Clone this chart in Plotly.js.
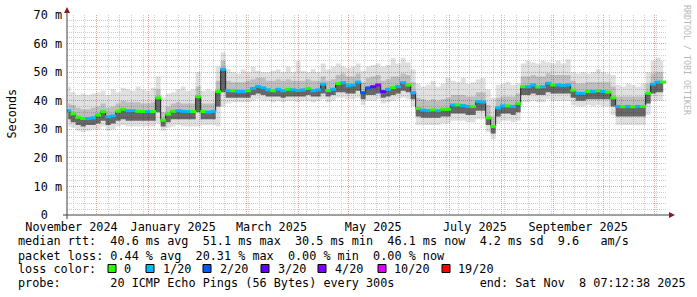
<!DOCTYPE html>
<html><head><meta charset="utf-8">
<script src="https://cdn.plot.ly/plotly-3.0.1.min.js"></script>
<style>html,body{margin:0;padding:0;background:#fff}</style>
</head><body><div id="chart" style="width:697px;height:297px"></div>
<script>
// ---- data (ms), one value every 3 days starting 2024-11-14 ----
const startDate = '2024-11-14';
const stepDays = 3;
const median = [36.5,35.4,34.2,33.8,33.8,34,35,36.2,34.4,34.7,36.3,37,36.5,36.5,36.3,36.2,36.2,36.2,41,33.2,
35.3,36.3,36.5,36.3,36.2,36.2,41.4,36.2,36,36.2,43.2,51,43.5,43.5,43.2,43.2,43.5,44.3,45,44.5,
43.8,43.5,44,43.5,44,43.8,43.6,43.8,44.3,43.5,43.8,45.8,43.6,44,46,46.3,45.2,45.5,46.5,42.8,
44.5,44.9,45.5,43.2,44,44.6,45,46.3,45.5,42.8,37.3,36.7,36.5,36.8,36.5,37,37,38.5,38.5,38.3,
38,38,39.7,39.5,34,31,37.5,38.2,38.2,38,39,44.9,44.9,45.5,44.8,44.9,46.1,45.5,45.5,45.3,
45.5,43.7,42.6,42.6,43.2,43.2,43.5,43.2,43,41,38,37.9,38,37.9,38,38,42.6,45.8,46.5,46.5];
const smokeMin = [31,30.5,29.5,29,29.5,30,30,31,29.5,30,31,31.5,31,31,31,31,31,31,32,29.5,
30.5,31,31.5,31,31,31,31,31.5,31.5,31.5,31,38,39,39.5,39.5,39.5,39.5,40,40.5,40,
40,39.5,40,39.5,40,40,39.5,40,40,39.5,40,40.5,39.5,40,41,41,40.5,40.5,41,38.5,
40,40,40.5,39,39.5,40,40.5,41,40.5,38,31.5,31.5,31.5,31.5,31.5,32,32,33,33,33,
32.5,32.5,33.5,33.5,29,26.5,32,33,33,32.5,33,39.5,39.5,40,39.5,39.5,40.5,40,40,40,
40,38.5,38,38,38.5,38,38.5,38,38,35,31.5,31.5,31.5,31.5,31.5,31.5,35,40,40,40];
const smokeQ1 = [33.5,32.5,31.5,31,31.5,31.5,32,33,31.5,32,33,33.5,33,33,33,33,33,33,36,31,
32.5,33.5,33.5,33.5,33.5,33.5,36,33.5,33.5,33.5,38,43,41,41,41,41,41,42,42.5,42,
41.5,41.5,41.5,41,41.5,41.5,41.5,41.5,42,41.5,41.5,42.5,41.5,42,43,43,42.5,42.5,43.5,40.5,
42,42,42.5,41,41.5,42,42.5,43.5,43,40.5,34.5,34,34,34,34,34.5,34.5,35.5,35.5,35.5,
35,35,36.5,36.5,31.5,28.5,34.5,35.5,35.5,35,36,42,42,42.5,42,42,43,42.5,42.5,42.5,
42.5,41,40,40,40.5,40.5,40.5,40.5,40.5,38,34.5,34.5,34.5,34.5,34.5,34.5,39,42.5,43,43];
const smokeQ3 = [39,38.5,37.5,37,37,37.5,38,39,37.5,38,39,40,39.5,39.5,39.5,39,39,39.5,44,36,
38,39,39.5,39,39,39,45,39,39,39,47,54,47,46.5,46.5,46.5,47,47.5,48,48,
47,47,47.5,47,47.5,47,47,47,47.5,47,47,48.5,47,47.5,49,49.5,48.5,48.5,49.5,46.5,
48,48.5,49,47,47.5,48.5,48.5,49.5,49,46.5,41,40.5,40,40.5,40,40.5,41,42,42,42,
41.5,41.5,43,43,38.5,34.5,41,41.5,41.5,41.5,42.5,48.5,48.5,49,48.5,48.5,49.5,49,49,49,
49,47,46,46,46.5,46.5,46.5,46.5,46.5,45,41.5,41.5,41.5,41.5,41.5,41.5,46,49.5,50,50];
const smokeMax = [45,43,42,42.5,42,42.5,43,43.5,42,44,43,44.5,44,43.5,45,44,43.5,44.5,48.5,41,
42.5,43,44,45,43.5,44,50,43.5,44,43.5,52,57,51,50,49.5,51,50,52,50.5,50,
50,50.5,51,50,52,50,54,50.5,50,51,50,53,51,52,53,52,51.5,52,53,50.5,
52,52.5,53,52,52.5,55,53,55,53.5,51,46,45,45.5,47,45,46,48,47,46.5,48,
46,46.5,47.5,48,44,41,45.5,46,46.5,45.5,46,53,54,53.5,53,54,53.5,53,54,53,
54.5,50,49.5,50,49.5,50,51,50,49.5,49,45.5,45,46,45.5,45,46,50,54,55,54];
// loss per step, in pings out of 20
const lossCount = [1,0,0,0,1,1,0,0,1,1,0,0,1,1,0,0,1,0,0,0,0,0,1,1,1,0,0,0,1,1,
0,1,1,0,1,1,0,1,1,1,1,0,1,1,0,1,1,1,0,1,1,1,0,1,0,1,1,1,1,2,
2,3,4,3,1,0,1,1,0,1,0,1,1,0,1,0,0,1,0,1,1,0,1,1,0,0,1,1,0,1,
0,0,1,1,0,1,1,0,1,1,1,0,1,1,0,1,0,1,0,0,1,0,1,0,1,0,0,1,1,0];
const lossLevels = [0, 1, 2, 3, 4, 10, 19];
const lossLabels = ['0', '1/20', '2/20', '3/20', '4/20', '10/20', '19/20'];
const lossColors = ['#26ff00', '#00b8ff', '#0059ff', '#5e00ff', '#7e00ff', '#dd00ff', '#ff0000'];
const yTickVals = [0, 10, 20, 30, 40, 50, 60, 70];
const yTickText = ['0\u00a0\u00a0', '10 m', '20 m', '30 m', '40 m', '50 m', '60 m', '70 m'];
const xLabelVals = ['2024-11-16', '2025-01-16', '2025-03-16', '2025-05-16', '2025-07-16', '2025-09-16'];
const xLabelText = ['November 2024', 'January 2025', 'March 2025', 'May 2025', 'July 2025', 'September 2025'];
const rangeStart = '2024-11-13 07:12:38';
const rangeEnd = '2025-11-08 07:12:38';
const legendLine1 = 'median rtt:  40.6 ms avg  51.1 ms max  30.5 ms min  46.1 ms now  4.2 ms sd  9.6   am/s';
const legendLine2 = 'packet loss: 0.44 % avg  20.31 % max  0.00 % min  0.00 % now';
const legendLine3 = 'loss color:';
const legendLine4 = 'probe:       20 ICMP Echo Pings (56 Bytes) every 300s            end: Sat Nov  8 07:12:38 2025';

// ---- build ----
const t0 = new Date(startDate + 'T00:00:00Z').getTime();
const xs = median.map((_, i) => new Date(t0 + i * stepDays * 86400000).toISOString().slice(0, 19).replace('T', ' '));
const colorOf = n => lossColors[lossLevels.indexOf(n)];
const MONO = 'DejaVu Sans Mono';
const FS = 11.8;
const nb = s => s.replace(/ /g, '\u00a0');
const PX = v => (v - 67) / 600, PY = v => (215 - v) / 200;

const base = {x: xs, type: 'scatter', mode: 'lines', hoverinfo: 'skip', line: {width: 0, shape: 'hvh'}};
const traces = [
  Object.assign({}, base, {y: smokeMin}),
  Object.assign({}, base, {y: smokeMax, fill: 'tonexty', fillcolor: 'rgba(0,0,0,0.12)'}),
  Object.assign({}, base, {y: smokeQ1}),
  Object.assign({}, base, {y: smokeQ3, fill: 'tonexty', fillcolor: 'rgba(0,0,0,0.15)'}),
  Object.assign({}, base, {y: smokeQ1}),
  Object.assign({}, base, {y: median, fill: 'tonexty', fillcolor: 'rgba(0,0,0,0.45)'}),
  Object.assign({}, base, {y: median, line: {width: 1, shape: 'hvh', color: '#202020'}}),
  {x: xs, y: median, type: 'scatter', mode: 'markers', hoverinfo: 'skip',
   marker: {symbol: 'line-ew', size: 4.2, line: {width: 3, color: lossCount.map(colorOf)}}},
  {x: xLabelVals, y: xLabelVals.map(() => null), xaxis: 'x2', type: 'scatter', mode: 'markers', hoverinfo: 'skip'}
];

const gridRed = '#e7a3a3', gridGray = '#cfcfcf', dots = '1px,1px';
const annotations = [
  {text: nb(legendLine1), x: PX(16), y: PY(241)},
  {text: nb(legendLine2), x: PX(16), y: PY(255.5)},
  {text: nb(legendLine3), x: PX(16), y: PY(269)},
  {text: nb(legendLine4), x: PX(16), y: PY(283)},
  {text: 'Seconds', x: PX(11), y: PY(113.5), xanchor: 'center', textangle: -90},
  {text: nb('RRDTOOL / TOBI OETIKER'), x: PX(687), y: PY(60), xanchor: 'center', textangle: 90,
   font: {family: MONO, size: 8.3, color: '#b8b8b8'}}
];
const boxX = [108, 146, 203, 261, 318, 378, 442];
const labX = [122, 161, 218, 276, 333, 392, 456];
const shapes = [];
lossLabels.forEach((lab, k) => {
  annotations.push({text: nb(lab), x: PX(labX[k]), y: PY(269)});
  shapes.push({type: 'rect', xref: 'paper', yref: 'paper', x0: PX(boxX[k]), x1: PX(boxX[k] + 8),
    y0: PY(272.5), y1: PY(264.5), fillcolor: lossColors[k], line: {color: '#000', width: 1}});
});
annotations.forEach(a => {
  a.xref = 'paper'; a.yref = 'paper'; a.showarrow = false;
  if (!a.xanchor) a.xanchor = 'left';
  a.yanchor = 'middle';
  if (!a.font) a.font = {family: MONO, size: FS, color: '#000'};
});
// axis lines and arrows
shapes.push({type: 'line', xref: 'paper', yref: 'paper', x0: PX(67), x1: PX(67), y0: PY(219), y1: PY(12), line: {color: '#404040', width: 1}});
shapes.push({type: 'line', xref: 'paper', yref: 'paper', x0: PX(63), x1: PX(670), y0: PY(215), y1: PY(215), line: {color: '#404040', width: 1}});
shapes.push({type: 'path', xref: 'paper', yref: 'paper', fillcolor: '#8e1a1a', line: {width: 0},
  path: `M ${PX(64)} ${PY(13)} L ${PX(67)} ${PY(7)} L ${PX(70)} ${PY(13)} Z`});
shapes.push({type: 'path', xref: 'paper', yref: 'paper', fillcolor: '#8e1a1a', line: {width: 0},
  path: `M ${PX(669)} ${PY(212)} L ${PX(675)} ${PY(215)} L ${PX(669)} ${PY(218)} Z`});

const layout = {
  width: 697, height: 297,
  margin: {l: 67, r: 30, t: 15, b: 82, pad: 0},
  paper_bgcolor: '#ffffff', plot_bgcolor: '#ffffff',
  showlegend: false,
  font: {family: MONO, size: FS, color: '#000'},
  xaxis: {type: 'date', range: [rangeStart, rangeEnd], tickmode: 'linear', tick0: '2024-12-01', dtick: 'M1',
    showticklabels: false, showgrid: true, gridcolor: gridRed, griddash: dots, gridwidth: 1,
    ticks: '', zeroline: false, showline: false, fixedrange: true,
    minor: {tick0: '2024-12-01', dtick: 7 * 86400000, showgrid: true, gridcolor: gridGray, griddash: dots, gridwidth: 1}},
  xaxis2: {type: 'date', overlaying: 'x', anchor: 'y', side: 'bottom', range: [rangeStart, rangeEnd],
    tickmode: 'array', tickvals: xLabelVals, ticktext: xLabelText, showgrid: false, ticks: '',
    showline: false, zeroline: false, tickfont: {family: MONO, size: FS, color: '#000'}, ticklabelstandoff: 3},
  yaxis: {range: [0, 70], tickmode: 'array', tickvals: yTickVals, ticktext: yTickText,
    showgrid: true, gridcolor: gridRed, griddash: dots, gridwidth: 1, zeroline: false, showline: false, ticks: '',
    tickfont: {family: MONO, size: FS, color: '#000'}, ticklabelstandoff: 4, fixedrange: true,
    minor: {dtick: 2, showgrid: true, gridcolor: gridGray, griddash: dots, gridwidth: 1}},
  annotations: annotations,
  shapes: shapes
};
Plotly.newPlot('chart', traces, layout, {staticPlot: true, displayModeBar: false});
</script></body></html>
